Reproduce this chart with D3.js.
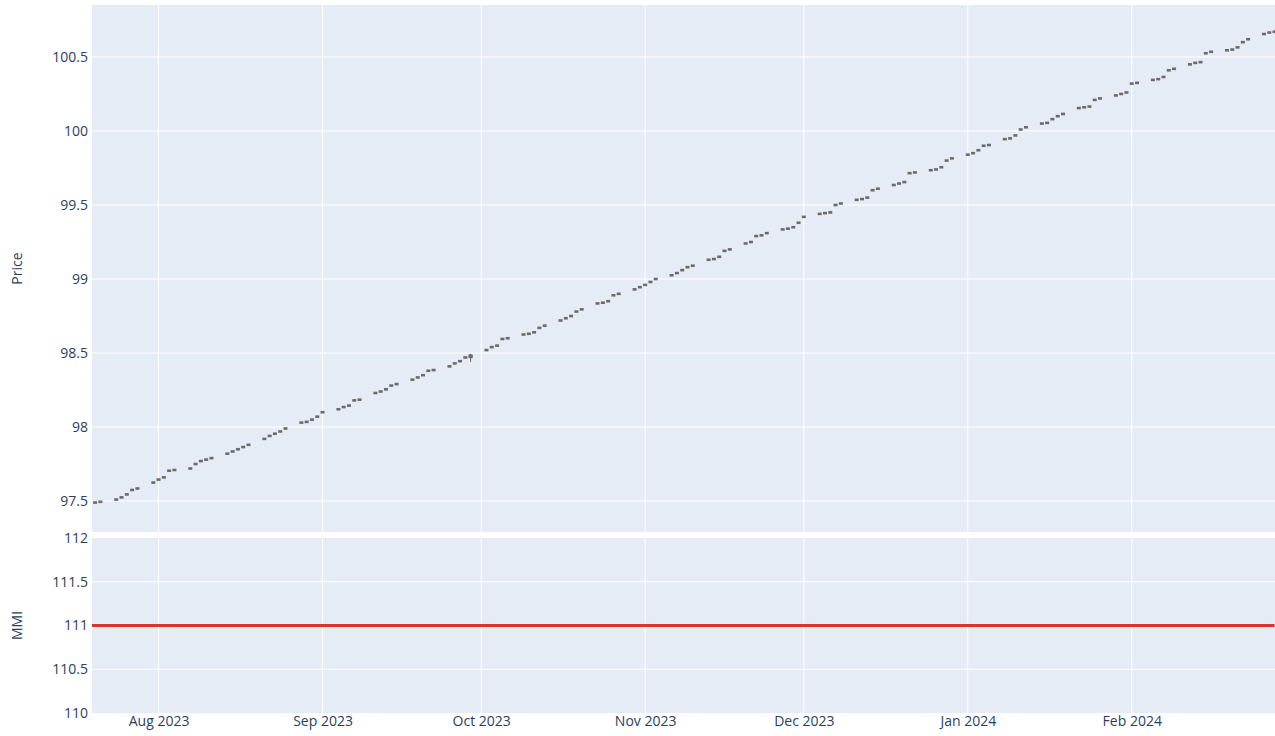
<!DOCTYPE html>
<html lang="en">
<head>
  <meta charset="UTF-8">
  <title>Price and MMI</title>
  <script src="https://d3js.org/d3.v7.min.js"></script>
  <style>
    body { margin: 0; background: #fff; }
    text { font-family: "Open Sans", "Noto Sans", sans-serif; fill: #2a3f5f; }
  </style>
</head>
<body>

<svg width="1275" height="736"></svg>

<script>
  // trading days run Jul 19 2023 .. Feb 28 2024 (weekdays)
  var firstDay = "2023-07-19";
  var lastDay = "2024-02-28";

  // closing prices, one per weekday
  var closes = [
    // Jul
    97.485, 97.49, 97.495, 97.51, 97.525, 97.545, 97.575, 97.585, 97.625,
    // Aug
    97.645, 97.66, 97.705, 97.71, 97.72, 97.75, 97.77, 97.78, 97.79, 97.82, 97.835, 97.85,
    97.865, 97.88, 97.92, 97.94, 97.955, 97.97, 97.99, 98.03, 98.035, 98.05, 98.07,
    // Sep
    98.10, 98.12, 98.135, 98.145, 98.18, 98.185, 98.23, 98.24, 98.255, 98.28, 98.29,
    98.32, 98.335, 98.35, 98.38, 98.385, 98.41, 98.43, 98.445, 98.47, 98.48,
    // Oct
    98.52, 98.54, 98.55, 98.595, 98.60, 98.625, 98.63, 98.64, 98.67, 98.685, 98.72,
    98.735, 98.75, 98.78, 98.795, 98.835, 98.84, 98.85, 98.89, 98.90, 98.93, 98.945,
    // Nov
    98.96, 98.98, 99.00, 99.025, 99.04, 99.06, 99.08, 99.09, 99.13, 99.135, 99.15,
    99.19, 99.20, 99.24, 99.25, 99.29, 99.295, 99.31, 99.335, 99.34, 99.35, 99.38,
    // Dec
    99.42, 99.44, 99.445, 99.45, 99.50, 99.51, 99.535, 99.54, 99.55, 99.60, 99.61,
    99.635, 99.645, 99.655, 99.715, 99.72, 99.735, 99.74, 99.755, 99.80, 99.815,
    // Jan
    99.84, 99.85, 99.87, 99.90, 99.905, 99.945, 99.95, 99.97, 100.01, 100.025, 100.05,
    100.055, 100.08, 100.10, 100.115, 100.155, 100.16, 100.165, 100.21, 100.22, 100.24,
    100.25, 100.26,
    // Feb
    100.32, 100.325, 100.345, 100.35, 100.365, 100.41, 100.42, 100.45, 100.46, 100.465,
    100.525, 100.535, 100.545, 100.55, 100.565, 100.60, 100.62, 100.655, 100.665, 100.67
  ];

  // the one candle with a visible range
  var wideCandles = [{ date: "2023-09-29", open: 98.465, close: 98.49, low: 98.44, high: 98.495 }];

  var mmi = [
    111,111,111,111,111,111,111,111,111,111,111,111,111,111,111,111,111,111,111,111,
    111,111,111,111,111,111,111,111,111,111,111,111,111,111,111,111,111,111,111,111,
    111,111,111,111,111,111,111,111,111,111,111,111,111,111,111,111,111,111,111,111,
    111,111,111,111,111,111,111,111,111,111,111,111,111,111,111,111,111,111,111,111,
    111,111,111,111,111,111,111,111,111,111,111,111,111,111,111,111,111,111,111,111,
    111,111,111,111,111,111,111,111,111,111,111,111,111,111,111,111,111,111,111,111,
    111,111,111,111,111,111,111,111,111,111,111,111,111,111,111,111,111,111,111,111,
    111,111,111,111,111,111,111,111,111,111,111,111,111,111,111,111,111,111,111,111,
    111
  ];

  var priceTicks = [97.5, 98, 98.5, 99, 99.5, 100, 100.5];
  var mmiTicks = [110, 110.5, 111, 111.5, 112];
  var monthTicks = ["2023-08-01", "2023-09-01", "2023-10-01", "2023-11-01", "2023-12-01", "2024-01-01", "2024-02-01"];

  var parse = d3.utcParse("%Y-%m-%d");
  var days = d3.utcDay.range(parse(firstDay), d3.utcDay.offset(parse(lastDay), 1))
    .filter(function(d) { return d.getUTCDay() !== 0 && d.getUTCDay() !== 6; });

  var svg = d3.select("svg");
  var left = 92, right = 1275;
  var top1 = 5, bot1 = 532, top2 = 538, bot2 = 713;

  // a little less than a day of padding, as the candlestick autorange gives
  var x = d3.scaleUtc()
      .domain([d3.utcHour.offset(parse(firstDay), 10), d3.utcHour.offset(parse(lastDay), 2)])
      .range([left, right]);
  var yP = d3.scaleLinear().domain([97.291, 100.851]).range([bot1, top1]);
  var yM = d3.scaleLinear().domain([110, 112]).range([bot2, top2]);

  svg.append("defs").append("clipPath").attr("id", "clipTop")
    .append("rect").attr("x", left).attr("y", top1).attr("width", right - left).attr("height", bot1 - top1);
  svg.select("defs").append("clipPath").attr("id", "clipBot")
    .append("rect").attr("x", left).attr("y", top2).attr("width", right - left).attr("height", bot2 - top2);

  // panel backgrounds
  svg.append("rect").attr("x", left).attr("y", top1).attr("width", right - left)
    .attr("height", bot1 - top1).attr("fill", "#E5ECF6");
  svg.append("rect").attr("x", left).attr("y", top2).attr("width", right - left)
    .attr("height", bot2 - top2).attr("fill", "#E5ECF6");

  // grids
  var months = monthTicks.map(parse);
  [[top1, bot1], [top2, bot2]].forEach(function(p) {
    svg.append("g").selectAll("line").data(months).join("line")
      .attr("x1", function(d) { return x(d); }).attr("x2", function(d) { return x(d); })
      .attr("y1", p[0]).attr("y2", p[1])
      .attr("stroke", "#fff").attr("stroke-width", 1);
  });
  svg.append("g").selectAll("line").data(priceTicks).join("line")
    .attr("x1", left).attr("x2", right)
    .attr("y1", function(d) { return yP(d); }).attr("y2", function(d) { return yP(d); })
    .attr("stroke", "#fff").attr("stroke-width", 1);
  svg.append("g").selectAll("line").data(mmiTicks.slice(1, -1)).join("line")
    .attr("x1", left).attr("x2", right)
    .attr("y1", function(d) { return yM(d); }).attr("y2", function(d) { return yM(d); })
    .attr("stroke", "#fff").attr("stroke-width", 1);

  // axes
  var yAxisP = d3.axisLeft(yP).tickValues(priceTicks).tickSize(0).tickPadding(4)
    .tickFormat(function(d) { return d3.format("")(d); });
  svg.append("g").attr("transform", "translate(" + left + ",0)").call(yAxisP)
    .call(function(g) { g.select(".domain").remove(); })
    .selectAll("text").style("font-size", "14px").attr("fill", "#2a3f5f");

  var yAxisM = d3.axisLeft(yM).tickValues(mmiTicks).tickSize(0).tickPadding(4)
    .tickFormat(function(d) { return d3.format("")(d); });
  svg.append("g").attr("transform", "translate(" + left + ",0)").call(yAxisM)
    .call(function(g) { g.select(".domain").remove(); })
    .selectAll("text").style("font-size", "14px").attr("fill", "#2a3f5f");

  var xAxis = d3.axisBottom(x).tickValues(months).tickSize(0).tickPadding(3)
    .tickFormat(d3.utcFormat("%b %Y"));
  svg.append("g").attr("transform", "translate(0," + bot2 + ")").call(xAxis)
    .call(function(g) { g.select(".domain").remove(); })
    .selectAll("text").style("font-size", "14px").attr("fill", "#2a3f5f");

  svg.append("text").attr("transform", "translate(22," + ((top1 + bot1) / 2) + ") rotate(-90)")
    .attr("text-anchor", "middle").style("font-size", "14px").text("Price");
  svg.append("text").attr("transform", "translate(22," + ((top2 + bot2) / 2) + ") rotate(-90)")
    .attr("text-anchor", "middle").style("font-size", "14px").text("MMI");

  // candles
  var candles = days.map(function(d, i) { return { date: d, close: closes[i] }; });
  var gC = svg.append("g").attr("clip-path", "url(#clipTop)");
  gC.selectAll("rect").data(candles).join("rect")
    .attr("x", function(d) { return x(d.date) - 2; })
    .attr("y", function(d) { return yP(d.close) - 1.3; })
    .attr("width", 4)
    .attr("height", 2.6)
    .attr("fill", "#6b6b6b");

  var wide = wideCandles.map(function(c) { return Object.assign({}, c, { date: parse(c.date) }); });
  gC.selectAll("line.wick").data(wide).join("line").attr("class", "wick")
    .attr("x1", function(d) { return x(d.date); }).attr("x2", function(d) { return x(d.date); })
    .attr("y1", function(d) { return yP(d.high); }).attr("y2", function(d) { return yP(d.low); })
    .attr("stroke", "#6b6b6b").attr("stroke-width", 1);
  gC.selectAll("rect.body").data(wide).join("rect").attr("class", "body")
    .attr("x", function(d) { return x(d.date) - 2; })
    .attr("y", function(d) { return yP(Math.max(d.open, d.close)); })
    .attr("width", 4)
    .attr("height", function(d) { return Math.abs(yP(d.open) - yP(d.close)); })
    .attr("fill", "#6b6b6b");

  // MMI line
  var mmiLine = d3.line()
    .x(function(d) { return x(d.date); })
    .y(function(d) { return yM(d.v); });
  svg.append("path").attr("clip-path", "url(#clipBot)")
    .datum(days.map(function(d, i) { return { date: d, v: mmi[i] }; }))
    .attr("d", mmiLine)
    .attr("fill", "none")
    .attr("stroke", "#e3302a")
    .attr("stroke-width", 3);
</script>

</body>
</html>
